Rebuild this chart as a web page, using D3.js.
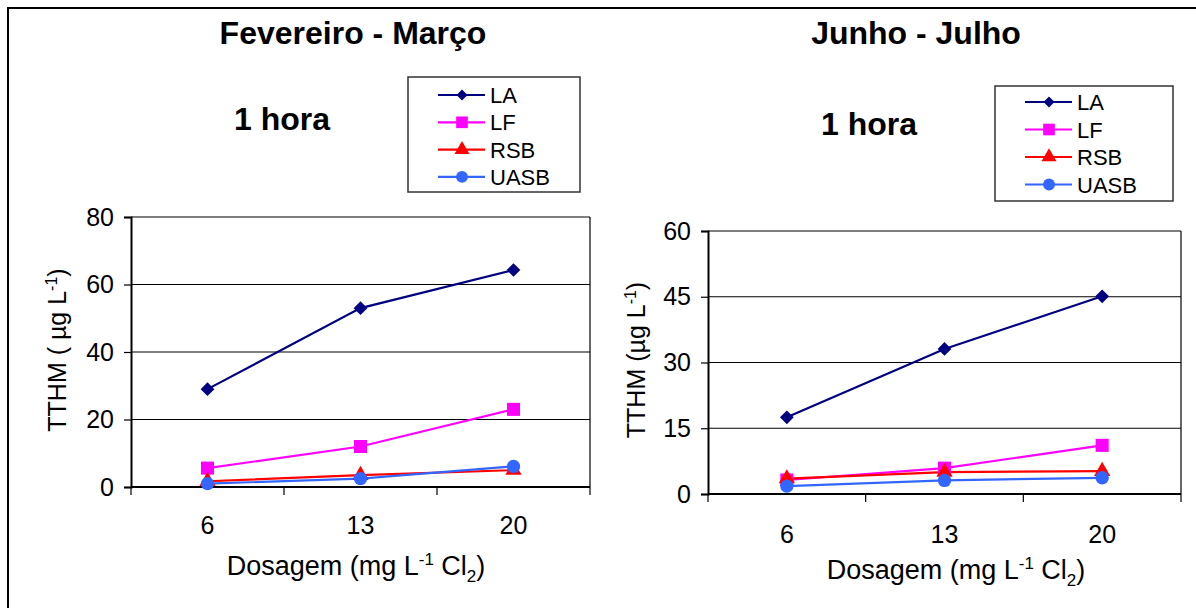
<!DOCTYPE html>
<html>
<head>
<meta charset="utf-8">
<script src="https://cdn.jsdelivr.net/npm/d3@7"></script>
<style>
  html, body { margin: 0; padding: 0; background: #fff; }
  svg { display: block; font-family: Arial, "Liberation Sans", sans-serif; }
</style>
</head>
<body>
<svg id="fig" width="1196" height="608"></svg>
<script>
// Dosage categories (mg L-1 Cl2)
const doses = ["6", "13", "20"];
const seriesNames = ["LA", "LF", "RSB", "UASB"];

// Fevereiro - Março, 1 hora (TTHM, µg L-1)
const febLA = [29, 53, 64.3];
const febLF = [5.6, 12, 23];
const febRSB = [1.7, 3.5, 5.0];
const febUASB = [1.0, 2.5, 6.1];
const febTicks = [0, 20, 40, 60, 80];

// Junho - Julho, 1 hora (TTHM, µg L-1)
const junLA = [17.5, 33.1, 45.1];
const junLF = [3.2, 5.9, 11.1];
const junRSB = [3.5, 5.0, 5.2];
const junUASB = [1.8, 3.1, 3.7];
const junTicks = [0, 15, 30, 45, 60];

const seriesColors = ["#000080", "#ff00ff", "#ff0000", "#3366ff"];
const seriesSymbols = [d3.symbolDiamond2, d3.symbolSquare, d3.symbolTriangle, d3.symbolCircle];
const symbolSizes = [120, 170, 115, 140];
const legendScale = [0.65, 0.8, 0.85, 0.8];

const svg = d3.select("#fig");

// outer frame
svg.append("rect")
  .attr("x", 8).attr("y", 8).attr("width", 1300).attr("height", 800)
  .attr("fill", "none").attr("stroke", "#000").attr("stroke-width", 2);

function markerPath(i, scale) {
  return d3.symbol().type(seriesSymbols[i]).size(symbolSizes[i] * scale)();
}

function drawChart(cfg) {
  const g = svg.append("g");
  const { left, right, top, bottom } = cfg.area;

  const x = d3.scaleBand().domain(doses).range([left, right]);
  const y = d3.scaleLinear().domain([cfg.ticks[0], cfg.ticks[cfg.ticks.length - 1]]).range([bottom, top]);

  // gridlines
  g.append("g").selectAll("line").data(cfg.ticks.slice(1)).join("line")
    .attr("x1", left).attr("x2", right)
    .attr("y1", d => y(d)).attr("y2", d => y(d))
    .attr("stroke", "#000").attr("stroke-width", 1.2);

  // plot-area right border
  g.append("line").attr("x1", right).attr("x2", right).attr("y1", top).attr("y2", bottom)
    .attr("stroke", "#000").attr("stroke-width", 1.2);

  // y axis
  const yAxis = d3.axisLeft(y).tickValues(cfg.ticks).tickSize(7).tickPadding(10);
  const ya = g.append("g").attr("transform", `translate(${left},0)`).call(yAxis);
  ya.select(".domain").attr("stroke-width", 2);
  ya.selectAll(".tick line").attr("stroke-width", 1.2);
  ya.selectAll("text").attr("font-size", 25).attr("font-family", null).attr("fill", "#000");

  // x axis: ticks between categories
  const xa = g.append("g").attr("transform", `translate(0,${bottom})`);
  xa.append("line").attr("x1", left).attr("x2", right).attr("stroke", "#000").attr("stroke-width", 2);
  const bounds = doses.map(d => x(d)).concat([right]);
  xa.selectAll("line.tk").data(bounds).join("line").attr("class", "tk")
    .attr("x1", d => d).attr("x2", d => d).attr("y1", 0).attr("y2", 8)
    .attr("stroke", "#000").attr("stroke-width", 1.2);
  xa.selectAll("text").data(doses).join("text")
    .attr("x", d => x(d) + x.bandwidth() / 2).attr("y", cfg.xTickY - bottom)
    .attr("text-anchor", "middle").attr("font-size", 25).text(d => d);

  // axis titles
  const xt = g.append("text").attr("x", cfg.xTitle[0]).attr("y", cfg.xTitle[1])
    .attr("text-anchor", "middle").attr("font-size", 27);
  xt.append("tspan").text("Dosagem (mg L");
  xt.append("tspan").attr("font-size", 17).attr("dy", -10).text("-1");
  xt.append("tspan").attr("dy", 10).text(" Cl");
  xt.append("tspan").attr("font-size", 17).attr("dy", 7).text("2");
  xt.append("tspan").attr("dy", -7).text(")");

  const yt = g.append("text")
    .attr("transform", `translate(${cfg.yTitle[0]},${cfg.yTitle[1]}) rotate(-90)`)
    .attr("text-anchor", "middle").attr("font-size", 25);
  yt.append("tspan").text(cfg.yLabel);
  yt.append("tspan").attr("font-size", 16).attr("dy", -9).text("-1");
  yt.append("tspan").attr("dy", 9).text(")");

  // series lines and markers
  const line = d3.line().x((d, i) => x(doses[i]) + x.bandwidth() / 2).y(d => y(d));
  cfg.series.forEach((vals, i) => {
    g.append("path").datum(vals).attr("d", line)
      .attr("fill", "none").attr("stroke", seriesColors[i]).attr("stroke-width", 2.2);
  });
  cfg.series.forEach((vals, i) => {
    g.append("g").selectAll("path").data(vals).join("path")
      .attr("transform", (d, j) => `translate(${x(doses[j]) + x.bandwidth() / 2},${y(d)})`)
      .attr("d", markerPath(i, 1))
      .attr("fill", seriesColors[i]);
  });

  // titles
  g.append("text").attr("x", cfg.title[0]).attr("y", cfg.title[1])
    .attr("text-anchor", "middle").attr("font-size", 32).attr("font-weight", "bold").text(cfg.titleText);
  g.append("text").attr("x", cfg.sub[0]).attr("y", cfg.sub[1])
    .attr("text-anchor", "middle").attr("font-size", 32).attr("font-weight", "bold").text("1 hora");

  // legend
  const L = cfg.legend;
  const lg = g.append("g");
  lg.append("rect").attr("x", L.x).attr("y", L.y).attr("width", L.w).attr("height", L.h)
    .attr("fill", "#fff").attr("stroke", "#333").attr("stroke-width", 1.5);
  seriesNames.forEach((name, i) => {
    const cy = L.y + L.first + i * L.step;
    lg.append("line").attr("x1", L.x + 30).attr("x2", L.x + 77).attr("y1", cy).attr("y2", cy)
      .attr("stroke", seriesColors[i]).attr("stroke-width", 2.2);
    lg.append("path").attr("transform", `translate(${L.x + 54},${cy})`)
      .attr("d", markerPath(i, legendScale[i])).attr("fill", seriesColors[i]);
    lg.append("text").attr("x", L.x + 82).attr("y", cy + 8).attr("font-size", 22).text(name);
  });
}

drawChart({
  area: { left: 131, right: 590, top: 217, bottom: 487 },
  ticks: febTicks,
  series: [febLA, febLF, febRSB, febUASB],
  titleText: "Fevereiro - Março",
  title: [353, 44],
  sub: [282, 130],
  xTickY: 534,
  xTitle: [356, 575],
  yTitle: [66, 350],
  yLabel: "TTHM ( µg L",
  legend: { x: 408, y: 77, w: 172, h: 115, first: 18, step: 27.3 }
});

drawChart({
  area: { left: 708, right: 1181, top: 231, bottom: 494 },
  ticks: junTicks,
  series: [junLA, junLF, junRSB, junUASB],
  titleText: "Junho - Julho",
  title: [916, 44],
  sub: [869, 135],
  xTickY: 543,
  xTitle: [956, 579],
  yTitle: [645, 360],
  yLabel: "TTHM (µg L",
  legend: { x: 995, y: 86, w: 178, h: 115, first: 16, step: 27.5 }
});
</script>
</body>
</html>
